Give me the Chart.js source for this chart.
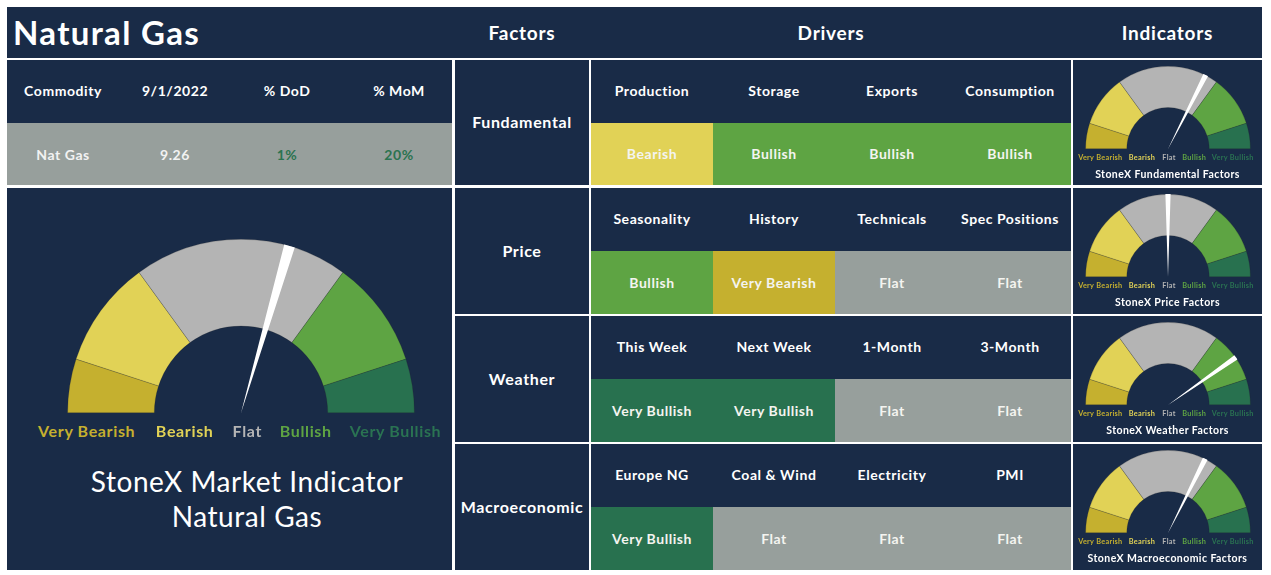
<!DOCTYPE html>
<html><head><meta charset="utf-8">
<script src="https://cdn.jsdelivr.net/npm/chart.js@4.4.0/dist/chart.umd.min.js"></script>
<style>
body{margin:0;background:#fff;width:1271px;height:575px;position:relative;overflow:hidden;font-family:Lato,'Noto Sans',sans-serif;}
.box{position:absolute;background:#192b47;color:#fff;}
.t{position:absolute;white-space:nowrap;transform:translate(-50%,-50%);line-height:1;}
canvas{position:absolute;left:0;top:0;}
</style></head><body>
<script>
// ---------- DATA ----------
const pageTitle = 'Natural Gas';
const columnHeaders = ['Factors', 'Drivers', 'Indicators'];
const commodityHeaders = ['Commodity', '9/1/2022', '% DoD', '% MoM'];
const commodityValues = ['Nat Gas', '9.26', '1%', '20%'];
const factors = ['Fundamental', 'Price', 'Weather', 'Macroeconomic'];
const driverNames = [
  ['Production', 'Storage', 'Exports', 'Consumption'],
  ['Seasonality', 'History', 'Technicals', 'Spec Positions'],
  ['This Week', 'Next Week', '1-Month', '3-Month'],
  ['Europe NG', 'Coal & Wind', 'Electricity', 'PMI']
];
const driverSignals = [
  ['Bearish', 'Bullish', 'Bullish', 'Bullish'],
  ['Bullish', 'Very Bearish', 'Flat', 'Flat'],
  ['Very Bullish', 'Very Bullish', 'Flat', 'Flat'],
  ['Very Bullish', 'Flat', 'Flat', 'Flat']
];
const gaugeBands = ['Very Bearish', 'Bearish', 'Flat', 'Bullish', 'Very Bullish'];
const bandSizes = [10, 20, 40, 20, 10];            // share of the half dial (0-100)
const indicatorTitles = ['StoneX Fundamental Factors', 'StoneX Price Factors', 'StoneX Weather Factors', 'StoneX Macroeconomic Factors'];
const indicatorValues = [65, 50, 80.5, 64.8];       // needle position on 0-100 dial
const overallValue = 59;
const overallTitle = ['StoneX Market Indicator', 'Natural Gas'];
const needleWidth = 2;

// ---------- STYLE ----------
const bandColors = ['#c5b02f', '#e1d256', '#b4b4b4', '#5ea443', '#28714f'];
const labelColors = ['#c5b02f', '#e1d256', '#b4b4b4', '#5ea443', '#2a7352'];
const cellColors = {'Very Bearish':'#c5b02f','Bearish':'#e1d256','Flat':'#979f9c','Bullish':'#5ea443','Very Bullish':'#28714f'};

function box(l, t, w, h, bg) {
  const d = document.createElement('div');
  d.className = 'box';
  Object.assign(d.style, {left:l+'px', top:t+'px', width:w+'px', height:h+'px'});
  if (bg) d.style.background = bg;
  document.body.appendChild(d);
  return d;
}
function text(s, x, y, size, weight, color) {
  const d = document.createElement('div');
  d.className = 't';
  d.textContent = s;
  Object.assign(d.style, {left:x+'px', top:(y-1)+'px', fontSize:size+'px', fontWeight:weight, color:color||'#fff',
    letterSpacing: (weight >= 600 ? 0.04 : 0.02) + 'em'});
  document.body.appendChild(d);
  return d;
}

// header bar
box(7, 7, 1255, 51);
const tt = text(pageTitle, 13, 32.5, 33, 700);
tt.style.transform = 'translate(0,-50%)';
text(columnHeaders[0], 522, 33, 19, 700);
text(columnHeaders[1], 831, 33, 19, 700);
text(columnHeaders[2], 1167.5, 33, 19, 700);

// commodity table
box(7, 60, 445, 63);
box(7, 123, 445, 62, '#979f9c');
const comCenters = [63, 175, 287, 399];
commodityHeaders.forEach((h, i) => text(h, comCenters[i], 91.5, 14, 700));
const comColors = ['#f2f2f2', '#f2f2f2', '#2b7350', '#2b7350'];
commodityValues.forEach((v, i) => text(v, comCenters[i], 156, 14, 700, comColors[i]));

// big panel
box(7, 188, 445, 382);

// rows
const rowTops = [60, 188, 316, 444];
const rowBottoms = [185, 314, 442, 570];
const colEdges = [591, 713, 835, 949, 1071];
factors.forEach((f, r) => {
  const t = rowTops[r], b = rowBottoms[r], h = b - t;
  box(455, t, 134, h);
  text(f, 522, t + h/2 + 0.5, 16, 700);
  box(591, t, 480, 63);
  for (let c = 0; c < 4; c++) {
    const x0 = colEdges[c], x1 = colEdges[c+1];
    box(x0, t + 63, x1 - x0, b - t - 63, cellColors[driverSignals[r][c]]);
    text(driverNames[r][c], (x0 + x1)/2, t + 31.5, 14, 700);
    text(driverSignals[r][c], (x0 + x1)/2, t + 63 + (b - t - 63)/2 + 1.2, 14, 700, '#f4f4f0');
  }
  box(1073, t, 189, h);
});

function gauge(cx, bottom, R, value) {
  const wrap = document.createElement('div');
  Object.assign(wrap.style, {position:'absolute', left:(cx-R)+'px', top:(bottom-R)+'px', width:(2*R)+'px', height:R+'px'});
  document.body.appendChild(wrap);
  const mk = () => { const c = document.createElement('canvas'); c.width = 2*R; c.height = R; c.style.width = 2*R+'px'; c.style.height = R+'px'; wrap.appendChild(c); return c; };
  const common = {responsive:false, maintainAspectRatio:false, animation:false, events:[], rotation:-90, circumference:180, layout:{padding:0}, plugins:{legend:{display:false}, tooltip:{enabled:false}}};
  new Chart(mk(), {type:'doughnut', data:{labels:gaugeBands, datasets:[{data:bandSizes, backgroundColor:bandColors, borderWidth:0.6, borderColor:'rgba(40,40,40,0.35)', hoverOffset:0, offset:0}]}, options:Object.assign({cutout:'50%'}, common)});
  new Chart(mk(), {type:'pie', data:{labels:['', 'needle', ''], datasets:[{data:[value - needleWidth/2, needleWidth, 100 - value - needleWidth/2], backgroundColor:['rgba(0,0,0,0)', '#ffffff', 'rgba(0,0,0,0)'], borderWidth:0, hoverOffset:0, offset:0}]}, options:Object.assign({cutout:0}, common)});
}

// big gauge
gauge(241, 413, 174, overallValue);
const bigOffsets = [-155, -57, 5.6, 64, 153.8];
gaugeBands.forEach((b, i) => text(b, 241.7 + bigOffsets[i], 431.5, 16, 700, labelColors[i]));
text(overallTitle[0], 247, 481.5, 28, 400);
text(overallTitle[1], 247, 517, 28, 400);

// small gauges
const smallOffsets = [-67.2, -25.6, 1.5, 26.7, 65.2];
indicatorValues.forEach((v, r) => {
  const t = rowTops[r];
  gauge(1168, t + 88.5, 83, v);
  gaugeBands.forEach((b, i) => text(b, 1167.5 + smallOffsets[i], t + 98.8, 7.3, 700, labelColors[i]));
  text(indicatorTitles[r], 1167.5, t + 114.5, 10.5, 700);
});
</script>
</body></html>
